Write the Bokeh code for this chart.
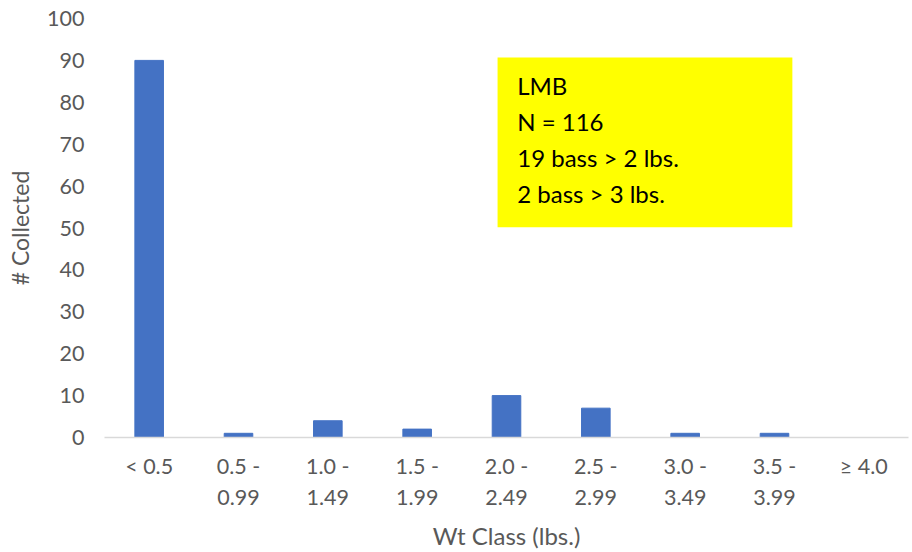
from bokeh.plotting import figure
from bokeh.models import FactorRange, Range1d, BoxAnnotation, Label, FixedTicker
from bokeh.embed import file_html
from bokeh.resources import INLINE

# Largemouth bass catch by weight class
wt_classes = ["< 0.5", "0.5 -\n0.99", "1.0 -\n1.49", "1.5 -\n1.99", "2.0 -\n2.49",
              "2.5 -\n2.99", "3.0 -\n3.49", "3.5 -\n3.99", "\u2265 4.0"]
counts = [90, 1, 4, 2, 10, 7, 1, 1, 0]
y_ticks = [0, 10, 20, 30, 40, 50, 60, 70, 80, 90, 100]
note_lines = ["LMB", "N = 116", "19 bass > 2 lbs.", "2 bass > 3 lbs."]

FONT = "Lato"
GREY = "#595959"

p = figure(width=912, height=552, x_range=FactorRange(*wt_classes, range_padding=0),
           y_range=Range1d(0, 100), output_backend="svg", toolbar_location=None,
           min_border_left=104, min_border_right=4, min_border_top=18, min_border_bottom=114)
p.outline_line_color = None
p.background_fill_color = "white"
p.border_fill_color = "white"
p.xgrid.grid_line_color = None
p.ygrid.grid_line_color = None

p.vbar(x=wt_classes, top=counts, width=0.32, color="#4472C4")

# axes
p.yaxis.ticker = FixedTicker(ticks=y_ticks)
p.yaxis.axis_line_color = None
p.yaxis.major_tick_line_color = None
p.yaxis.minor_tick_line_color = None
p.yaxis.major_label_standoff = 14
p.yaxis.major_label_text_font = FONT
p.yaxis.major_label_text_font_size = "21.5px"
p.yaxis.major_label_text_color = GREY
p.yaxis.axis_label = "# Collected"
p.yaxis.axis_label_text_font = FONT
p.yaxis.axis_label_text_font_size = "23px"
p.yaxis.axis_label_text_font_style = "normal"
p.yaxis.axis_label_text_color = GREY
p.yaxis.axis_label_standoff = 10

p.xaxis.axis_line_color = "#D9D9D9"
p.xaxis.axis_line_width = 1.5
p.xaxis.major_tick_line_color = None
p.xaxis.minor_tick_line_color = None
p.xaxis.major_label_standoff = 9
p.xaxis.major_label_text_font = FONT
p.xaxis.major_label_text_font_size = "21.5px"
p.xaxis.major_label_text_color = GREY
p.xaxis.major_label_text_line_height = 1.2
p.xaxis.axis_label = "Wt Class (lbs.)"
p.xaxis.axis_label_text_font = FONT
p.xaxis.axis_label_text_font_size = "24px"
p.xaxis.axis_label_text_font_style = "normal"
p.xaxis.axis_label_text_color = GREY
p.xaxis.axis_label_standoff = 8

# summary note box
p.add_layout(BoxAnnotation(left=4.40, right=7.70, bottom=50.2, top=90.7,
                           fill_color="#FFFF00", fill_alpha=1.0, line_color=None, level="overlay"))
for i, line in enumerate(note_lines):
    p.add_layout(Label(x=4.62, y=84.0 - i * 8.6, text=line, text_font=FONT,
                       text_font_size="24px", text_color="black",
                       text_baseline="middle", level="overlay"))

open("out.html", "w").write(file_html(p, INLINE))
